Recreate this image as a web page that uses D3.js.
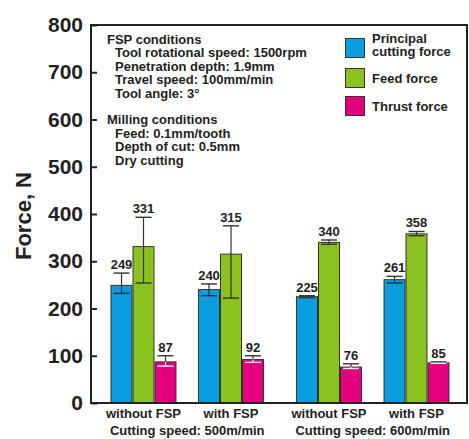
<!DOCTYPE html>
<html><head><meta charset="utf-8">
<script src="https://cdn.jsdelivr.net/npm/d3@7"></script>
<style>
body{margin:0;background:#fff;}
text{font-family:"Liberation Sans",Arial,Helvetica,sans-serif;}
</style></head>
<body><svg id="c" width="469" height="439"></svg>
<script>
const speeds = ["Cutting speed: 500m/min", "Cutting speed: 600m/min"];
const conditions = ["without FSP", "with FSP"];
const series = ["Principal cutting force", "Feed force", "Thrust force"];
const legendLines = [["Principal", "cutting force"], ["Feed force"], ["Thrust force"]];
const principal = [249, 240, 225, 261];
const feed = [331, 315, 340, 358];
const thrust = [87, 92, 76, 85];
const principalErrUp = [26, 12, 2, 7];
const principalErrDown = [17, 13, 2, 7];
const feedErrUp = [62, 60, 5, 5];
const feedErrDown = [77, 93, 4, 4];
const thrustErrUp = [13, 8, 7, 2];
const thrustErrDown = [9, 6, 3, 1];
const yTicks = [0, 100, 200, 300, 400, 500, 600, 700, 800];
const noteLines = [
  ["FSP conditions", 0], ["Tool rotational speed: 1500rpm", 1], ["Penetration depth: 1.9mm", 1],
  ["Travel speed: 100mm/min", 1], ["Tool angle: 3°", 1], ["", 0],
  ["Milling conditions", 0], ["Feed: 0.1mm/tooth", 1], ["Depth of cut: 0.5mm", 1], ["Dry cutting", 1]
];
const colors = ["#0b9de0", "#8cc21f", "#e4007f"];

const svg = d3.select("#c");
const L = 91, R = 467, T = 25, B = 403;
const y = d3.scaleLinear().domain([0, 800]).range([B, T]);

const xOuter = d3.scaleBand().domain(speeds).range([94.5, 465.5]).padding(0);
const xInner = d3.scaleBand().domain(conditions).range([0, xOuter.bandwidth()]).paddingInner(0).paddingOuter(0.06);
const xBar = d3.scaleBand().domain(series).range([0, xInner.bandwidth()]).paddingInner(0).paddingOuter(0.49);

const values = [principal, feed, thrust];
const errUp = [principalErrUp, feedErrUp, thrustErrUp];
const errDown = [principalErrDown, feedErrDown, thrustErrDown];

const data = [];
speeds.forEach((sp, si) => conditions.forEach((cd, ci) => series.forEach((se, k) => {
  const g = si * 2 + ci;
  data.push({sp, cd, se, k, v: values[k][g], up: errUp[k][g], dn: errDown[k][g]});
})));

const bx = d => xOuter(d.sp) + xInner(d.cd) + xBar(d.se);
const bw = xBar.bandwidth();

// bars
svg.append("g").selectAll("rect").data(data).join("rect")
  .attr("x", d => bx(d) + 0.5).attr("y", d => y(d.v))
  .attr("width", bw - 1).attr("height", d => y(0) - y(d.v))
  .attr("fill", d => colors[d.k]).attr("stroke", "#333").attr("stroke-width", 1);

// error bars
const eg = svg.append("g");
data.forEach(d => {
  const cx = bx(d) + bw / 2;
  const cw = 8;
  const top = y(d.v + d.up), bot = y(d.v - d.dn), vy = y(d.v);
  const outC = "#333";
  const inC = d.k === 2 ? "#fff" : "#333";
  eg.append("line").attr("x1", cx).attr("x2", cx).attr("y1", top).attr("y2", vy).attr("stroke", outC).attr("stroke-width", 1.2);
  eg.append("line").attr("x1", cx - cw).attr("x2", cx + cw).attr("y1", top).attr("y2", top).attr("stroke", outC).attr("stroke-width", 1.4);
  eg.append("line").attr("x1", cx).attr("x2", cx).attr("y1", vy).attr("y2", bot).attr("stroke", inC).attr("stroke-width", 1.2);
  eg.append("line").attr("x1", cx - cw).attr("x2", cx + cw).attr("y1", bot).attr("y2", bot).attr("stroke", inC).attr("stroke-width", 1.4);
  eg.append("text").attr("x", cx).attr("y", top - 4).attr("text-anchor", "middle")
    .attr("font-size", 13).attr("font-weight", "bold").attr("fill", "#222").text(d.v);
});

// frame
svg.append("rect").attr("x", L).attr("y", T).attr("width", R - L).attr("height", B - T)
  .attr("fill", "none").attr("stroke", "#222").attr("stroke-width", 2);

// y axis
const yAxis = d3.axisLeft(y).tickValues(yTicks).tickSize(-6).tickPadding(8);
const ya = svg.append("g").attr("transform", `translate(${L},0)`).call(yAxis);
ya.select(".domain").remove();
ya.selectAll(".tick line").attr("stroke", "#222").attr("stroke-width", 2);
ya.selectAll(".tick text").attr("font-size", 21).attr("font-weight", "bold").attr("fill", "#222")
  .attr("font-family", "Liberation Sans, Arial, sans-serif").attr("x", -8);

svg.append("text").attr("transform", `translate(31,216) rotate(-90)`).attr("text-anchor", "middle")
  .attr("font-size", 22).attr("font-weight", "bold").attr("fill", "#222").text("Force, N");

// x labels
speeds.forEach(sp => {
  conditions.forEach(cd => {
    svg.append("text").attr("x", xOuter(sp) + xInner(cd) + xInner.bandwidth() / 2).attr("y", 418)
      .attr("text-anchor", "middle").attr("font-size", 13).attr("font-weight", "bold").attr("fill", "#222").text(cd);
  });
  svg.append("text").attr("x", xOuter(sp) + xOuter.bandwidth() / 2).attr("y", 435)
    .attr("text-anchor", "middle").attr("font-size", 13).attr("font-weight", "bold").attr("fill", "#222").text(sp);
});

// notes
const ng = svg.append("g");
noteLines.forEach((ln, i) => {
  ng.append("text").attr("x", 107 + ln[1] * 8).attr("y", 44 + i * 13.4)
    .attr("font-size", 13).attr("font-weight", "bold").attr("fill", "#222").text(ln[0]);
});

// legend
const lgTops = [38, 68, 96];
series.forEach((se, k) => {
  svg.append("rect").attr("x", 345.5).attr("y", lgTops[k] + 0.5).attr("width", 19).attr("height", 19)
    .attr("fill", colors[k]).attr("stroke", "#333").attr("stroke-width", 1);
  const lines = legendLines[k];
  lines.forEach((t, j) => {
    const yy = lines.length === 2 ? 43 + j * 13 : lgTops[k] + 15;
    svg.append("text").attr("x", 372).attr("y", yy).attr("font-size", 13).attr("font-weight", "bold")
      .attr("fill", "#222").text(t);
  });
});
</script></body></html>
